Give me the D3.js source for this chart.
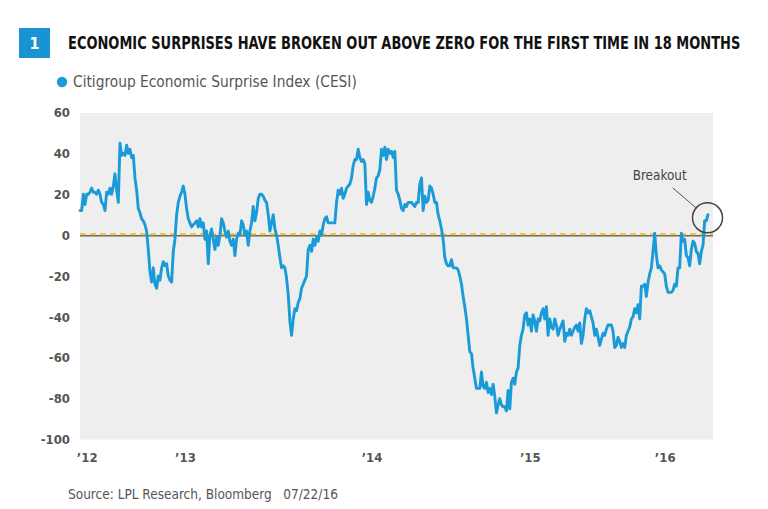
<!DOCTYPE html>
<html>
<head>
<meta charset="utf-8">
<script src="https://cdn.jsdelivr.net/npm/d3@7"></script>
<style>
  html, body { margin: 0; padding: 0; background: #ffffff; }
  svg { display: block; }
  text { font-family: "Liberation Sans Narrow", "DejaVu Sans Condensed", Roboto, sans-serif; }
</style>
</head>
<body>
<svg id="chart" width="768" height="509"></svg>
<script>
// ---- Data ----
const titleText = "ECONOMIC SURPRISES HAVE BROKEN OUT ABOVE ZERO FOR THE FIRST TIME IN 18 MONTHS";
const seriesName = "Citigroup Economic Surprise Index (CESI)";
const sourceText = "Source: LPL Research, Bloomberg   07/22/16";

// CESI observations, Jan 2012 -> Jul 22 2016 (evenly spaced samples)
const cesi2012 = [12,12,20,15,20,20,21,23,21,21,20,22,20,16,15,12,21,20,23,20,24,30,22,16,45,39,40,39,44,40,42,38,39,28,22,13,11,8,7,5,2,-7,-18,-23,-16,-24,-26,-20,-22,-16,-13,-15,-14,-20,-22,-23,-8,-2,10,16,19,21,24,20];
const cesi2013a = [13,8,6,4,5,6,7,4,8,4,6,-2,2,-14,0,3,-2,-7,-1,-5,0,8,6,2,-1,2,-3,-5,-2,-10,-2,1,0,7,5,0,2,-5,2,6,14,7,11,18,20,20,19,17,16,10,2,6,10,3,0,-5,-11,-16,-15,-16,-21,-29,-42];
const cesi2013b = [-49,-41,-36,-37,-33,-31,-26,-24,-22,-20,-7,-5,-8,-2,-5,-1,-3,2,0,5,8,9,6,6,6,6,6,16,22,20,23,18,20,23,24,25,28,34,37,37,42,38,36,37,35,15,21,17,16,19,23,28,29,32,42,39,43,37,42,40,41,38,41];
const cesi2014 = [22,20,17,13,12,15,14,16,16,16,15,14,16,16,25,28,12,19,16,17,24,23,20,16,16,10,7,3,-2,-11,-14,-15,-15,-12,-16,-16,-16,-17,-20,-24,-30,-35,-41,-49,-57,-58,-65,-70,-75,-75,-75,-67,-74,-75,-72,-77,-75,-78,-73,-79,-87,-83,-80];
const cesi2015 = [-83,-84,-84,-86,-76,-85,-72,-70,-73,-67,-65,-54,-49,-46,-39,-38,-44,-41,-47,-39,-42,-47,-41,-42,-38,-36,-41,-35,-49,-41,-45,-46,-41,-44,-49,-46,-44,-42,-52,-48,-49,-46,-49,-47,-45,-44,-47,-43,-53,-49,-41,-36,-38,-37,-40,-43,-49,-46,-50,-54,-51,-48,-49];
const cesi2016 = [-46,-44,-44,-44,-47,-55,-54,-50,-52,-55,-53,-55,-49,-47,-45,-41,-40,-36,-38,-34,-41,-25,-25,-24,-30,-23,-19,-16,-8,1,-10,-16,-15,-17,-18,-19,-25,-28,-28,-28,-27,-24,-25,-16,-16,1,-3,-2,-10,-11,-15,-7,-3,-4,-8,-9,-14,-8,-5,7,7,10];
const values = [].concat(cesi2012, cesi2013a, cesi2013b, cesi2014, cesi2015, cesi2016);

// x tick labels and the sample position where each label sits
const xTickLabels = ["\u201912", "\u201913", "\u201914", "\u201915", "\u201916"];
const xTickIndex = [4, 63, 175, 270, 351];
const yTicks = [60, 40, 20, 0, -20, -40, -60, -80, -100];

// annotation
const annotationText = "Breakout";
const breakoutPoint = { i: 376.7, v: 8.5 };
const breakoutLabel = { i: 348, v: 29.5 };

// ---- Layout ----
const svg = d3.select("#chart");
const plot = { left: 80, right: 713, top: 113, bottom: 439.5 };
const blue = "#1b9ad8";
const condensed = "'Liberation Sans Narrow', 'DejaVu Sans Condensed', sans-serif";

const x = d3.scaleLinear().domain([0, 380]).range([plot.left, plot.right]);
const y = d3.scaleLinear().domain([-100, 60]).range([plot.bottom, 112.5]);

// Helper: text placed at (px, py) whose rendered width is scaled to `width`
function fittedText(px, py, str, width, attrs) {
  const g = svg.append("g");
  const t = g.append("text").attr("x", 0).attr("y", 0).style("white-space", "pre").text(str);
  Object.entries(attrs).forEach(([k, v]) => t.attr(k, v));
  const natural = t.node().getComputedTextLength();
  const sx = width / natural;
  g.attr("transform", `translate(${px},${py}) scale(${sx},1)`);
  return t;
}

// Title block
svg.append("rect").attr("x", 19).attr("y", 28).attr("width", 31).attr("height", 30).attr("fill", "#1a93d3");
svg.append("text").attr("x", 34.5).attr("y", 49).attr("text-anchor", "middle")
  .attr("fill", "#fff").attr("font-size", 16).attr("font-weight", "bold").text("1");
fittedText(68, 49, titleText, 673, { "font-size": 17, "font-weight": "bold", "fill": "#111" });

// Legend
svg.append("circle").attr("cx", 62).attr("cy", 82).attr("r", 5.2).attr("fill", blue);
fittedText(73, 87, seriesName, 284, { "font-size": 15, "fill": "#555" });

// Plot background
svg.append("rect").attr("x", plot.left).attr("y", plot.top)
  .attr("width", plot.right - plot.left).attr("height", plot.bottom - plot.top)
  .attr("fill", "#eeeeee");

// Y axis labels
const yAxis = d3.axisLeft(y).tickValues(yTicks).tickSize(0).tickPadding(0).tickFormat(d => String(d));
const gy = svg.append("g").attr("transform", `translate(70,0)`).call(yAxis);
gy.select(".domain").remove();
gy.selectAll("text").attr("font-size", 13).attr("fill", "#555").attr("font-weight", "bold")
  .style("font-family", condensed);

// X axis labels
const xAxis = d3.axisBottom(x).tickValues(xTickIndex).tickSize(0).tickPadding(0)
  .tickFormat((d, i) => xTickLabels[i]);
const gx = svg.append("g").attr("transform", `translate(0,453)`).call(xAxis);
gx.select(".domain").remove();
gx.selectAll("text").attr("font-size", 13).attr("fill", "#555").attr("font-weight", "bold")
  .style("font-family", condensed);

// Zero line: gray solid with yellow dashes
svg.append("line").attr("x1", plot.left).attr("x2", plot.right)
  .attr("y1", y(0) + 0.6).attr("y2", y(0) + 0.6)
  .attr("stroke", "#666").attr("stroke-width", 1.3);
svg.append("line").attr("x1", plot.left).attr("x2", plot.right)
  .attr("y1", y(0) - 0.8).attr("y2", y(0) - 0.8)
  .attr("stroke", "#f0c22e").attr("stroke-width", 2).attr("stroke-dasharray", "6,4");

// Series line
const line = d3.line().x((d, i) => x(i)).y(d => y(d));
svg.append("path").datum(values).attr("d", line)
  .attr("fill", "none").attr("stroke", blue).attr("stroke-width", 2.9)
  .attr("stroke-linejoin", "round").attr("stroke-linecap", "round");

// Breakout annotation
const cx = x(breakoutPoint.i), cy = y(breakoutPoint.v), r = 15;
svg.append("circle").attr("cx", cx).attr("cy", cy).attr("r", r)
  .attr("fill", "none").attr("stroke", "#444").attr("stroke-width", 1.5);
const lx = x(breakoutLabel.i), ly = y(breakoutLabel.v);
fittedText(lx - 27, ly + 5, annotationText, 54, { "font-size": 14, "fill": "#444" });
const sx = lx + 13, sy = ly + 13;
const ang = Math.atan2(sy - cy, sx - cx);
svg.append("line").attr("x1", sx).attr("y1", sy)
  .attr("x2", cx + r * Math.cos(ang)).attr("y2", cy + r * Math.sin(ang))
  .attr("stroke", "#555").attr("stroke-width", 1);

// Source
fittedText(68, 499, sourceText, 270, { "font-size": 14, "fill": "#555" });
</script>
</body>
</html>
